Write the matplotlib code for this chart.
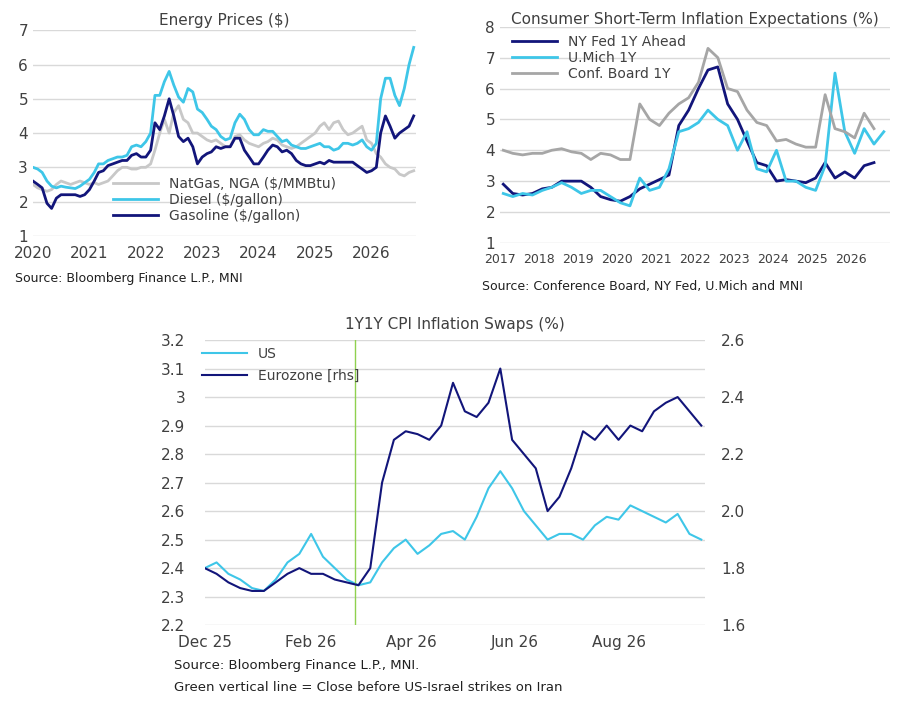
import matplotlib.pyplot as plt
import pandas as pd
import numpy as np

NAVY = "#12157a"
CYAN = "#3ec6e8"
TXT = "#404040"

# ---- Energy prices, monthly from Jan 2020 ----
diesel = [3.0, 2.95, 2.85, 2.6, 2.45, 2.4, 2.45, 2.42, 2.4, 2.38, 2.45, 2.55,
          2.65, 2.85, 3.1, 3.1, 3.2, 3.25, 3.3, 3.3, 3.35, 3.6, 3.65, 3.6,
          3.75, 4.0, 5.1, 5.1, 5.5, 5.8, 5.4, 5.05, 4.9, 5.3, 5.2, 4.7,
          4.6, 4.4, 4.2, 4.1, 3.9, 3.8, 3.85, 4.3, 4.55, 4.4, 4.1, 3.95,
          3.95, 4.1, 4.05, 4.05, 3.9, 3.75, 3.8, 3.65, 3.6, 3.55, 3.55, 3.6,
          3.65, 3.7, 3.6, 3.6, 3.5, 3.55, 3.7, 3.7, 3.65, 3.7, 3.8, 3.6,
          3.5, 3.7, 5.0, 5.6, 5.6, 5.1, 4.8, 5.3, 6.0, 6.5]
gasoline = [2.6, 2.5, 2.4, 1.95, 1.8, 2.1, 2.2, 2.2, 2.2, 2.2, 2.15, 2.2,
            2.35, 2.6, 2.85, 2.9, 3.05, 3.1, 3.15, 3.2, 3.2, 3.35, 3.4, 3.3,
            3.3, 3.5, 4.3, 4.1, 4.5, 5.0, 4.5, 3.9, 3.75, 3.85, 3.6, 3.1,
            3.3, 3.4, 3.45, 3.6, 3.55, 3.6, 3.6, 3.85, 3.85, 3.5, 3.3, 3.1,
            3.1, 3.3, 3.5, 3.65, 3.6, 3.45, 3.5, 3.4, 3.2, 3.1, 3.05, 3.05,
            3.1, 3.15, 3.1, 3.2, 3.15, 3.15, 3.15, 3.15, 3.15, 3.05, 2.95, 2.85,
            2.9, 3.0, 4.0, 4.5, 4.2, 3.85, 4.0, 4.1, 4.2, 4.5]
natgas = [2.5, 2.4, 2.35, 2.3, 2.35, 2.5, 2.6, 2.55, 2.5, 2.55, 2.6, 2.55,
          2.5, 2.55, 2.5, 2.55, 2.6, 2.75, 2.9, 3.0, 3.0, 2.95, 2.95, 3.0,
          3.0, 3.1, 3.5, 4.0, 4.4, 4.0, 4.6, 4.8, 4.4, 4.3, 4.0, 4.0,
          3.9, 3.8, 3.75, 3.8, 3.7, 3.6, 3.6, 3.9, 3.95, 3.8, 3.7, 3.65,
          3.6, 3.7, 3.75, 3.85, 3.8, 3.65, 3.6, 3.55, 3.6, 3.7, 3.8, 3.9,
          4.0, 4.2, 4.3, 4.1, 4.3, 4.35, 4.1, 3.95, 4.0, 4.1, 4.2, 3.8,
          3.7, 3.4, 3.3, 3.1, 3.0, 2.95, 2.8, 2.75, 2.85, 2.9]
energy_dates = pd.date_range("2020-01-01", periods=len(diesel), freq="MS")

# ---- Inflation expectations, quarterly from 2017Q1 ----
nyfed = [2.9, 2.6, 2.55, 2.6, 2.75, 2.8, 3.0, 3.0, 3.0, 2.8, 2.5, 2.4,
         2.35, 2.5, 2.75, 2.9, 3.05, 3.2, 4.8, 5.3, 6.0, 6.6, 6.7, 5.5,
         5.0, 4.3, 3.6, 3.5, 3.0, 3.05, 3.0, 2.95, 3.1, 3.6, 3.1, 3.3,
         3.1, 3.5, 3.6]
umich = [2.6, 2.5, 2.6, 2.55, 2.7, 2.8, 2.95, 2.8, 2.6, 2.7, 2.7, 2.5,
         2.3, 2.2, 3.1, 2.7, 2.8, 3.4, 4.6, 4.7, 4.9, 5.3, 5.0, 4.8,
         4.0, 4.6, 3.4, 3.3, 4.0, 3.0, 3.0, 2.8, 2.7, 3.5, 6.5, 4.6,
         3.9, 4.7, 4.2, 4.6]
confboard = [4.0, 3.9, 3.85, 3.9, 3.9, 4.0, 4.05, 3.95, 3.9, 3.7, 3.9, 3.85,
             3.7, 3.7, 5.5, 5.0, 4.8, 5.2, 5.5, 5.7, 6.2, 7.3, 7.0, 6.0,
             5.9, 5.3, 4.9, 4.8, 4.3, 4.35, 4.2, 4.1, 4.1, 5.8, 4.7, 4.6,
             4.4, 5.2, 4.7]

# ---- 1Y1Y CPI swaps, weekly ----
us_swap = [2.40, 2.42, 2.38, 2.36, 2.33, 2.32, 2.36, 2.42, 2.45, 2.52,
           2.44, 2.40, 2.36, 2.34, 2.35, 2.42, 2.47, 2.50, 2.45, 2.48,
           2.52, 2.53, 2.50, 2.58, 2.68, 2.74, 2.68, 2.60, 2.55, 2.50,
           2.52, 2.52, 2.50, 2.55, 2.58, 2.57, 2.62, 2.60, 2.58, 2.56,
           2.59, 2.52, 2.50]
ez_swap = [1.80, 1.78, 1.75, 1.73, 1.72, 1.72, 1.75, 1.78, 1.80, 1.78,
           1.78, 1.76, 1.75, 1.74, 1.80, 2.10, 2.25, 2.28, 2.27, 2.25,
           2.30, 2.45, 2.35, 2.33, 2.38, 2.50, 2.25, 2.20, 2.15, 2.00,
           2.05, 2.15, 2.28, 2.25, 2.30, 2.25, 2.30, 2.28, 2.35, 2.38,
           2.40, 2.35, 2.30]
swap_dates = pd.date_range("2025-12-01", "2026-09-18", periods=len(us_swap))
strike_date = pd.Timestamp("2026-02-27")


def style(ax):
    for s in ax.spines.values():
        s.set_visible(False)
    ax.grid(axis="y", color="#d9d9d9", lw=1)
    ax.set_axisbelow(True)
    ax.tick_params(length=0, colors=TXT, labelsize=11)
    ax.tick_params(axis="x", pad=7)


fig = plt.figure(figsize=(9.14, 7.04), dpi=100)

# Energy prices
ax1 = fig.add_axes([0.036, 0.665, 0.419, 0.292])
style(ax1)
ax1.plot(energy_dates, natgas, color="#c8c8c8", lw=2, label="NatGas, NGA ($/MMBtu)")
ax1.plot(energy_dates, diesel, color=CYAN, lw=2, label="Diesel ($/gallon)")
ax1.plot(energy_dates, gasoline, color=NAVY, lw=2, label="Gasoline ($/gallon)")
ax1.set_ylim(1, 7)
ax1.set_xlim(pd.Timestamp("2020-01-01"), pd.Timestamp("2026-10-15"))
ax1.set_xticks(pd.date_range("2020-01-01", "2026-01-01", freq="YS"))
ax1.set_xticklabels([str(y) for y in range(2020, 2027)])
ax1.set_title("Energy Prices ($)", fontsize=11, color=TXT, pad=4)
ax1.legend(loc="lower center", bbox_to_anchor=(0.5, 0.0), frameon=False,
           fontsize=10, handlelength=3.2, labelspacing=0.15, labelcolor=TXT)
fig.text(0.016, 0.6, "Source: Bloomberg Finance L.P., MNI", fontsize=9, color="#202020")

# Inflation expectations
ax2 = fig.add_axes([0.547, 0.655, 0.427, 0.307])
style(ax2)
qd = pd.date_range("2017-01-15", periods=40, freq="QS-FEB")
ax2.plot(qd[:len(nyfed)], nyfed, color=NAVY, lw=2, label="NY Fed 1Y Ahead")
ax2.plot(qd[:len(umich)], umich, color=CYAN, lw=2, label="U.Mich 1Y")
ax2.plot(qd[:len(confboard)], confboard, color="#a6a6a6", lw=2, label="Conf. Board 1Y")
ax2.set_ylim(1, 8)
ax2.set_xlim(pd.Timestamp("2017-01-01"), pd.Timestamp("2026-12-31"))
ax2.set_xticks(pd.date_range("2017-01-01", "2026-01-01", freq="YS"))
ax2.set_xticklabels([str(y) for y in range(2017, 2027)], fontsize=9)
ax2.set_title("Consumer Short-Term Inflation Expectations (%)", fontsize=11, color=TXT, pad=2)
ax2.legend(loc="upper left", bbox_to_anchor=(0.0, 1.02), frameon=False,
           fontsize=10, handlelength=3.2, labelspacing=0.15, labelcolor=TXT)
fig.text(0.527, 0.588, "Source: Conference Board, NY Fed, U.Mich and MNI",
         fontsize=9, color="#202020")

# Swaps
ax3 = fig.add_axes([0.224, 0.112, 0.547, 0.405])
style(ax3)
ax4 = ax3.twinx()
for s in ax4.spines.values():
    s.set_visible(False)
ax4.tick_params(length=0, colors=TXT, labelsize=11, pad=12)
l1, = ax3.plot(swap_dates, us_swap, color=CYAN, lw=1.5, label="US")
l2, = ax4.plot(swap_dates, ez_swap, color=NAVY, lw=1.5, label="Eurozone [rhs]")
ax3.axvline(strike_date, color="#8fd14f", lw=1)
ax3.set_ylim(2.2, 3.2)
ax3.set_yticks(np.arange(2.2, 3.21, 0.1))
ax3.set_yticklabels(["2.2", "2.3", "2.4", "2.5", "2.6", "2.7", "2.8", "2.9", "3", "3.1", "3.2"])
ax3.tick_params(axis="y", pad=14)
ax4.set_ylim(1.6, 2.6)
ax4.set_yticks([1.6, 1.8, 2.0, 2.2, 2.4, 2.6])
ax4.set_yticklabels(["1.6", "1.8", "2.0", "2.2", "2.4", "2.6"])
ax3.set_xlim(pd.Timestamp("2025-12-01"), pd.Timestamp("2026-09-20"))
ax3.set_xticks(pd.to_datetime(["2025-12-01", "2026-02-01", "2026-04-01", "2026-06-01", "2026-08-01"]))
ax3.set_xticklabels(["Dec 25", "Feb 26", "Apr 26", "Jun 26", "Aug 26"])
ax3.set_title("1Y1Y CPI Inflation Swaps (%)", fontsize=11, color=TXT, pad=8)
ax3.legend([l1, l2], ["US", "Eurozone [rhs]"], loc="upper left", frameon=False,
           fontsize=10, handlelength=3.2, labelspacing=0.6, labelcolor=TXT,
           bbox_to_anchor=(-0.03, 1.02))
fig.text(0.19, 0.05, "Source: Bloomberg Finance L.P., MNI.", fontsize=9.5, color="#202020")
fig.text(0.19, 0.018, "Green vertical line = Close before US-Israel strikes on Iran",
         fontsize=9.5, color="#202020")

fig.savefig("out.png", dpi=100)
